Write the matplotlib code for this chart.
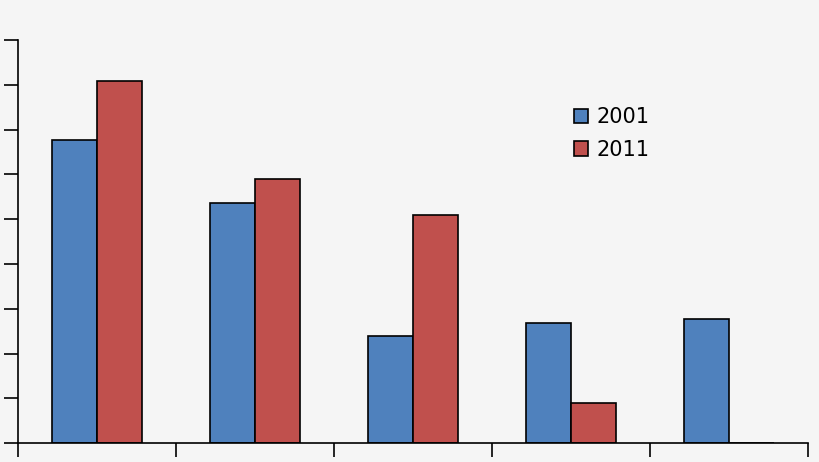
import matplotlib
matplotlib.use("Agg")
import matplotlib.pyplot as plt
import numpy as np

categories = ["A", "B", "C", "D", "E"]
values_2001 = [6.76, 5.36, 2.39, 2.68, 2.77]
values_2011 = [8.08, 5.89, 5.09, 0.89, 0.0]

bg = "#f5f5f5"
fig = plt.figure(figsize=(8.2, 4.62), dpi=100, facecolor=bg)
ax = fig.add_axes([0.022, 0.041, 0.963, 0.872], facecolor=bg)
x = np.arange(len(categories)) + 0.5
w = 0.285
ax.bar(x - w/2, values_2001, w, color="#4f81bd", edgecolor="black", linewidth=1.2, label="2001")
ax.bar(x + w/2, values_2011, w, color="#c0504d", edgecolor="black", linewidth=1.2, label="2011")
ax.set_xlim(0, 5)
ax.set_ylim(0, 9)
ax.set_yticks(range(10))
ax.set_xticks(range(6))
ax.set_yticklabels([])
ax.set_xticklabels([])
ax.tick_params(direction="out", length=10, width=1.2, color="black")
for s in ["top", "right"]:
    ax.spines[s].set_visible(False)
for s in ["left", "bottom"]:
    ax.spines[s].set_linewidth(1.2)
ax.legend(loc="upper left", bbox_to_anchor=(0.68, 0.88), frameon=False, fontsize=15,
          handlelength=0.7, handleheight=0.7, labelspacing=0.6, handletextpad=0.4)
fig.savefig("out.png", dpi=100, facecolor=bg)
